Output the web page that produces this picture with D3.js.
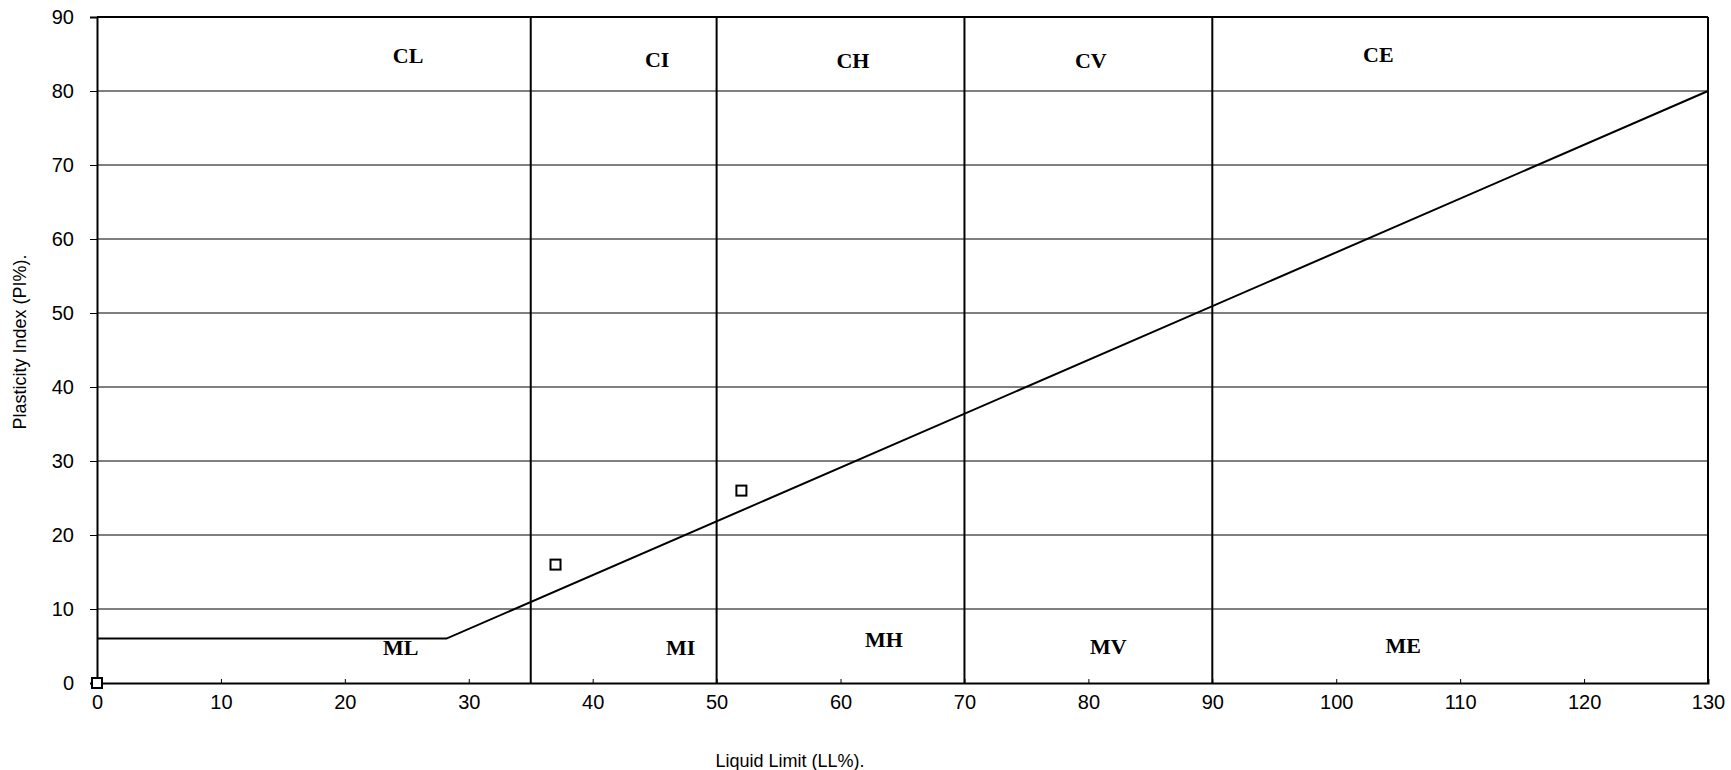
<!DOCTYPE html>
<html lang="en">
<head>
<meta charset="UTF-8">
<script src="https://d3js.org/d3.v7.min.js"></script>
<title>Plasticity chart</title>
<style>
  body { margin: 0; background: #fff; }
  .tick text { font-family: "Liberation Sans", Arial, sans-serif; font-size: 20px; fill: #000; }
</style>
</head>
<body>
<svg id="svg1" width="1731" height="770"></svg>
<script>
// data
const xTicks = [0, 10, 20, 30, 40, 50, 60, 70, 80, 90, 100, 110, 120, 130];
const yTicks = [0, 10, 20, 30, 40, 50, 60, 70, 80, 90];
const zoneBounds = [35, 50, 70, 90];
const aLineLL = [0, 28.2, 130];
const aLinePI = [6, 6, 80];
const sampleLL = [0, 37, 52];
const samplePI = [0, 16, 26];
const upperLabels = ["CL", "CI", "CH", "CV", "CE"];
const upperLL = [25.1, 45.2, 61, 80.2, 103.4];
const upperPI = [84.4, 83.9, 83.8, 83.8, 84.6];
const lowerLabels = ["ML", "MI", "MH", "MV", "ME"];
const lowerLL = [24.5, 47.1, 63.5, 81.6, 105.4];
const lowerPI = [4.5, 4.5, 5.5, 4.6, 4.7];

const svg1 = d3.select("svg#svg1");
const margin = {top: 17, right: 23, bottom: 87, left: 97};
const chartWidth = 1731 - margin.left - margin.right;
const chartHeight = 770 - margin.top - margin.bottom;

const xScale = d3.scaleLinear().domain([0, 130]).range([0, chartWidth]);
const yScale = d3.scaleLinear().domain([0, 90]).range([chartHeight, 0]);

let chartArea = svg1.append("g")
    .attr("transform", `translate(${margin.left},${margin.top})`);

// horizontal gridlines
chartArea.append("g").selectAll("line")
    .data(yTicks.slice(1))
    .join("line")
    .attr("x1", 0).attr("x2", chartWidth)
    .attr("y1", d => yScale(d)).attr("y2", d => yScale(d))
    .attr("stroke", "#000").attr("stroke-width", 1);

// zone boundaries
chartArea.append("g").selectAll("line")
    .data(zoneBounds)
    .join("line")
    .attr("x1", d => xScale(d)).attr("x2", d => xScale(d))
    .attr("y1", 0).attr("y2", chartHeight)
    .attr("stroke", "#000").attr("stroke-width", 2);

// axes
let leftAxis = d3.axisLeft(yScale).tickValues(yTicks).tickSize(7).tickPadding(16);
let gy = chartArea.append("g").call(leftAxis);
gy.select(".domain").attr("stroke-width", 2);

let bottomAxis = d3.axisBottom(xScale).tickValues(xTicks).tickSize(-4).tickPadding(12);
let gx = chartArea.append("g")
    .attr("transform", `translate(0,${chartHeight})`)
    .call(bottomAxis);
gx.select(".domain").attr("stroke-width", 2);

// frame top / right
chartArea.append("line")
    .attr("x1", 0).attr("x2", chartWidth).attr("y1", 0).attr("y2", 0)
    .attr("stroke", "#000").attr("stroke-width", 2);
chartArea.append("line")
    .attr("x1", chartWidth).attr("x2", chartWidth).attr("y1", 0).attr("y2", chartHeight)
    .attr("stroke", "#000").attr("stroke-width", 2);

// A-line
let lineGen = d3.line()
    .x((d, i) => xScale(aLineLL[i]))
    .y((d, i) => yScale(aLinePI[i]));
chartArea.append("path")
    .datum(aLineLL)
    .attr("fill", "none")
    .attr("stroke", "#000")
    .attr("stroke-width", 2)
    .attr("d", lineGen);

// samples
chartArea.append("g").selectAll("rect")
    .data(sampleLL)
    .join("rect")
    .attr("x", (d, i) => xScale(d) - 5)
    .attr("y", (d, i) => yScale(samplePI[i]) - 5)
    .attr("width", 10).attr("height", 10)
    .attr("fill", "#fff")
    .attr("stroke", "#000")
    .attr("stroke-width", 2);

// zone labels
const labelFont = '"Liberation Serif", "Times New Roman", serif';
upperLabels.forEach((t, i) => {
    chartArea.append("text")
        .attr("x", xScale(upperLL[i]))
        .attr("y", yScale(upperPI[i]))
        .attr("text-anchor", "middle")
        .attr("dominant-baseline", "middle")
        .style("font-family", labelFont)
        .style("font-weight", "bold")
        .style("font-size", "22px")
        .text(t);
});
lowerLabels.forEach((t, i) => {
    chartArea.append("text")
        .attr("x", xScale(lowerLL[i]))
        .attr("y", yScale(lowerPI[i]))
        .attr("text-anchor", "middle")
        .attr("dominant-baseline", "middle")
        .style("font-family", labelFont)
        .style("font-weight", "bold")
        .style("font-size", "22px")
        .text(t);
});

// axis titles
svg1.append("text")
    .attr("x", 790).attr("y", 767)
    .attr("text-anchor", "middle")
    .style("font-family", '"Liberation Sans", Arial, sans-serif')
    .style("font-size", "18px")
    .text("Liquid Limit (LL%).");

svg1.append("text")
    .attr("transform", "translate(26,342) rotate(-90)")
    .attr("text-anchor", "middle")
    .style("font-family", '"Liberation Sans", Arial, sans-serif')
    .style("font-size", "18px")
    .text("Plasticity Index (PI%).");
</script>
</body>
</html>
